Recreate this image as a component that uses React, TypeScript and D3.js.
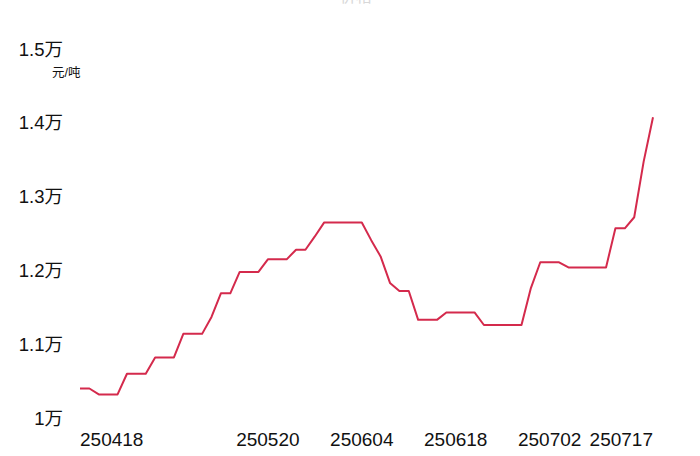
import React from "react";
import * as d3 from "d3";

const dates: string[] = [
  "250418","250421","250422","250423","250424","250425","250427","250428","250429","250430",
  "250506","250507","250508","250509","250512","250513","250514","250515","250516","250519",
  "250520","250521","250522","250523","250526","250527","250528","250529","250530","250603",
  "250604","250605","250606","250609","250610","250611","250612","250613","250616","250617",
  "250618","250619","250620","250623","250624","250625","250626","250627","250630","250701",
  "250702","250703","250704","250707","250708","250709","250710","250711","250714","250715",
  "250716","250717",
];

const prices: number[] = [
  10400, 10400, 10320, 10320, 10320, 10600, 10600, 10600, 10820, 10820,
  10820, 11140, 11140, 11140, 11370, 11690, 11690, 11980, 11980, 11980,
  12150, 12150, 12150, 12280, 12280, 12460, 12650, 12650, 12650, 12650,
  12650, 12410, 12190, 11830, 11720, 11720, 11330, 11330, 11330, 11430,
  11430, 11430, 11430, 11260, 11260, 11260, 11260, 11260, 11760, 12110,
  12110, 12110, 12040, 12040, 12040, 12040, 12040, 12570, 12570, 12720,
  13470, 14075,
];

const xTickLabels: string[] = ["250418", "250520", "250604", "250618", "250702", "250717"];
const yTicks: number[] = [10000, 11000, 12000, 13000, 14000, 15000];
const yTickLabels: string[] = ["1万", "1.1万", "1.2万", "1.3万", "1.4万", "1.5万"];
const unitLabel = "元/吨";
const title = "价格";

const W = 700;
const H = 456;
const FONT = "'Liberation Sans', Arial, 'Noto Sans CJK SC', sans-serif";

export default function App() {
  const x = d3.scalePoint<string>().domain(dates).range([80, 653]);
  const y = d3.scaleLinear().domain([10000, 15000]).range([418, 49]);

  const line = d3
    .line<number>()
    .x((_, i) => x(dates[i]) as number)
    .y((d) => y(d));

  const lastIdx = dates.length - 1;

  return (
    <svg
      width={W}
      height={H}
      style={{ position: "absolute", left: 0, top: 0, background: "#fff", display: "block" }}
    >
      <rect x={0} y={0} width={W} height={H} fill="#fff" />
      <text x={356} y={2} textAnchor="middle" fontFamily={FONT} fontSize={16} fill="#d8d8d8">
        {title}
      </text>
      {yTicks.map((t, i) => (
        <text
          key={t}
          x={63}
          y={y(t)}
          textAnchor="end"
          dominantBaseline="central"
          fontFamily={FONT}
          fontSize={18.5}
          fill="#111"
        >
          {yTickLabels[i]}
        </text>
      ))}
      <text x={52} y={77} fontFamily={FONT} fontSize={12.5} fill="#111">
        {unitLabel}
      </text>
      {xTickLabels.map((lab) => {
        const idx = dates.indexOf(lab);
        const anchor = idx === 0 ? "start" : idx === lastIdx ? "end" : "middle";
        return (
          <text
            key={lab}
            x={x(lab) as number}
            y={446}
            textAnchor={anchor}
            fontFamily={FONT}
            fontSize={19}
            fill="#111"
          >
            {lab}
          </text>
        );
      })}
      <path
        d={line(prices) || ""}
        fill="none"
        stroke="#d42a4c"
        strokeWidth={2}
        strokeLinejoin="round"
      />
    </svg>
  );
}
